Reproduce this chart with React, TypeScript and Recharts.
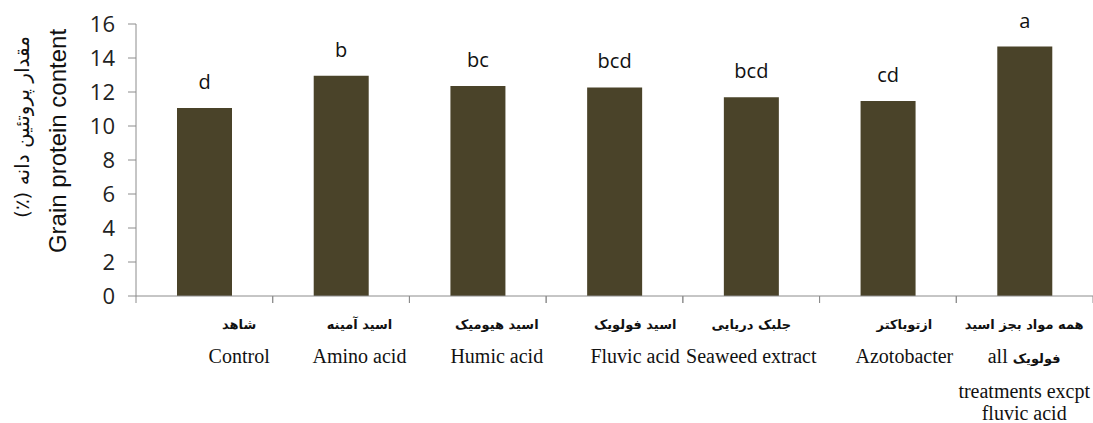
import React from 'react';
import { BarChart, Bar, XAxis, YAxis, LabelList } from 'recharts';

const categories = ['Control', 'Amino acid', 'Humic acid', 'Fluvic acid', 'Seaweed extract', 'Azotobacter', 'all treatments excpt fluvic acid'];
const persianNames = ['شاهد', 'اسید آمینه', 'اسید هیومیک', 'اسید فولویک', 'جلبک دریایی', 'ازتوباکتر', 'همه مواد بجز اسید'];
const englishLines = [
  ['Control'],
  ['Amino acid'],
  ['Humic acid'],
  ['Fluvic acid'],
  ['Seaweed extract'],
  ['Azotobacter'],
  ['all  فولویک', 'treatments excpt', 'fluvic acid'],
];
const proteinValues = [11.06, 12.96, 12.35, 12.27, 11.69, 11.47, 14.67];
const groupLetters = ['d', 'b', 'bc', 'bcd', 'bcd', 'cd', 'a'];
const yTicks = [0, 2, 4, 6, 8, 10, 12, 14, 16];
const yTitleEn = 'Grain protein content';
const yTitleFa = 'مقدار پروتئین دانه (٪)';

const data = categories.map((name, i) => ({
  name,
  value: proteinValues[i],
  letter: groupLetters[i],
  fa: persianNames[i],
  en: englishLines[i],
}));

const W = 1093;
const H = 423;
const LEFT = 136;
const RIGHT_M = 0;
const BAND = (W - LEFT - RIGHT_M) / categories.length;
const AXIS_COLOR = '#8c8c8c';
const EN_FONT = "'Liberation Serif', 'Times New Roman', serif";
const FA_FONT = "'DejaVu Sans', sans-serif";
const EN_SIZE = 20;
const FA_SIZE = 13;
const ARABIC = /([\u0600-\u06FF]+)/;

let ctx: CanvasRenderingContext2D | null = null;
function textWidth(s: string, font: string): number {
  if (!ctx) ctx = document.createElement('canvas').getContext('2d');
  if (!ctx) return s.length * 8;
  ctx.font = font;
  return ctx.measureText(s).width;
}

const CatTick = (props: any) => {
  const { x, y, index } = props;
  const d = data[index];
  if (!d) return null;
  const left = x - BAND / 2;
  const right = x + BAND / 2;
  const widths = [
    textWidth(d.fa, `bold ${FA_SIZE}px ${FA_FONT}`),
    ...d.en.map((s: string) => textWidth(s, `${EN_SIZE}px ${EN_FONT}`)),
  ];
  const maxW = Math.max(...widths);
  const cx = right - 3 - maxW / 2;
  const enBase = [67, 102, 124];
  return (
    <g>
      <line x1={left} y1={y} x2={left} y2={y + 7} stroke={AXIS_COLOR} strokeWidth={1} />
      <line x1={right} y1={y} x2={right} y2={y + 7} stroke={AXIS_COLOR} strokeWidth={1} />
      <text x={cx} y={y + 33} textAnchor="middle" fontFamily={FA_FONT} fontWeight="bold" fontSize={FA_SIZE} fill="#111">
        {d.fa}
      </text>
      {d.en.map((s: string, i: number) => (
        <text key={i} x={cx} y={y + enBase[i]} textAnchor="middle" fontFamily={EN_FONT} fontSize={EN_SIZE} fill="#111">
          {s.split(ARABIC).filter((p) => p.length > 0).map((p, j) =>
            ARABIC.test(p) ? (
              <tspan key={j} fontFamily={FA_FONT} fontWeight="bold" fontSize={FA_SIZE}>{p}</tspan>
            ) : (
              <tspan key={j}>{p}</tspan>
            )
          )}
        </text>
      ))}
    </g>
  );
};

const YTitle = () => (
  <g>
    <text
      x={57}
      y={141}
      transform="rotate(-90 57 141)"
      textAnchor="middle"
      dominantBaseline="central"
      fontFamily="'Liberation Sans', Arial, sans-serif"
      fontSize={24}
      fill="#111"
    >
      {yTitleEn}
    </text>
    <text
      x={22}
      y={127}
      transform="rotate(-90 22 127)"
      textAnchor="middle"
      dominantBaseline="central"
      fontFamily={FA_FONT}
      fontSize={20}
      fill="#111"
    >
      {'\u200F' + yTitleFa + '\u200F'}
    </text>
  </g>
);

export default function App() {
  return (
    <div style={{ position: 'absolute', left: 0, top: 0, width: W, height: H, background: '#fff' }}>
      <BarChart width={W} height={H} data={data} margin={{ top: 24, right: RIGHT_M, left: 0, bottom: 0 }}>
        <XAxis
          dataKey="name"
          interval={0}
          height={H - 296}
          tickLine={false}
          tickSize={0}
          tickMargin={0}
          axisLine={{ stroke: AXIS_COLOR }}
          tick={<CatTick />}
        />
        <YAxis
          width={LEFT}
          domain={[0, 16]}
          ticks={yTicks}
          interval={0}
          tickSize={8}
          tickMargin={13}
          axisLine={{ stroke: AXIS_COLOR }}
          tickLine={{ stroke: AXIS_COLOR }}
          tick={{ fontSize: 22, fill: '#222', fontFamily: "'Open Sans', sans-serif" }}
          label={{ content: () => <YTitle /> }}
        />
        <Bar dataKey="value" fill="#4a4329" barSize={55} isAnimationActive={false}>
          <LabelList dataKey="letter" position="top" offset={19} fill="#111" fontSize={20} fontFamily="'Open Sans', sans-serif" />
        </Bar>
      </BarChart>
    </div>
  );
}
